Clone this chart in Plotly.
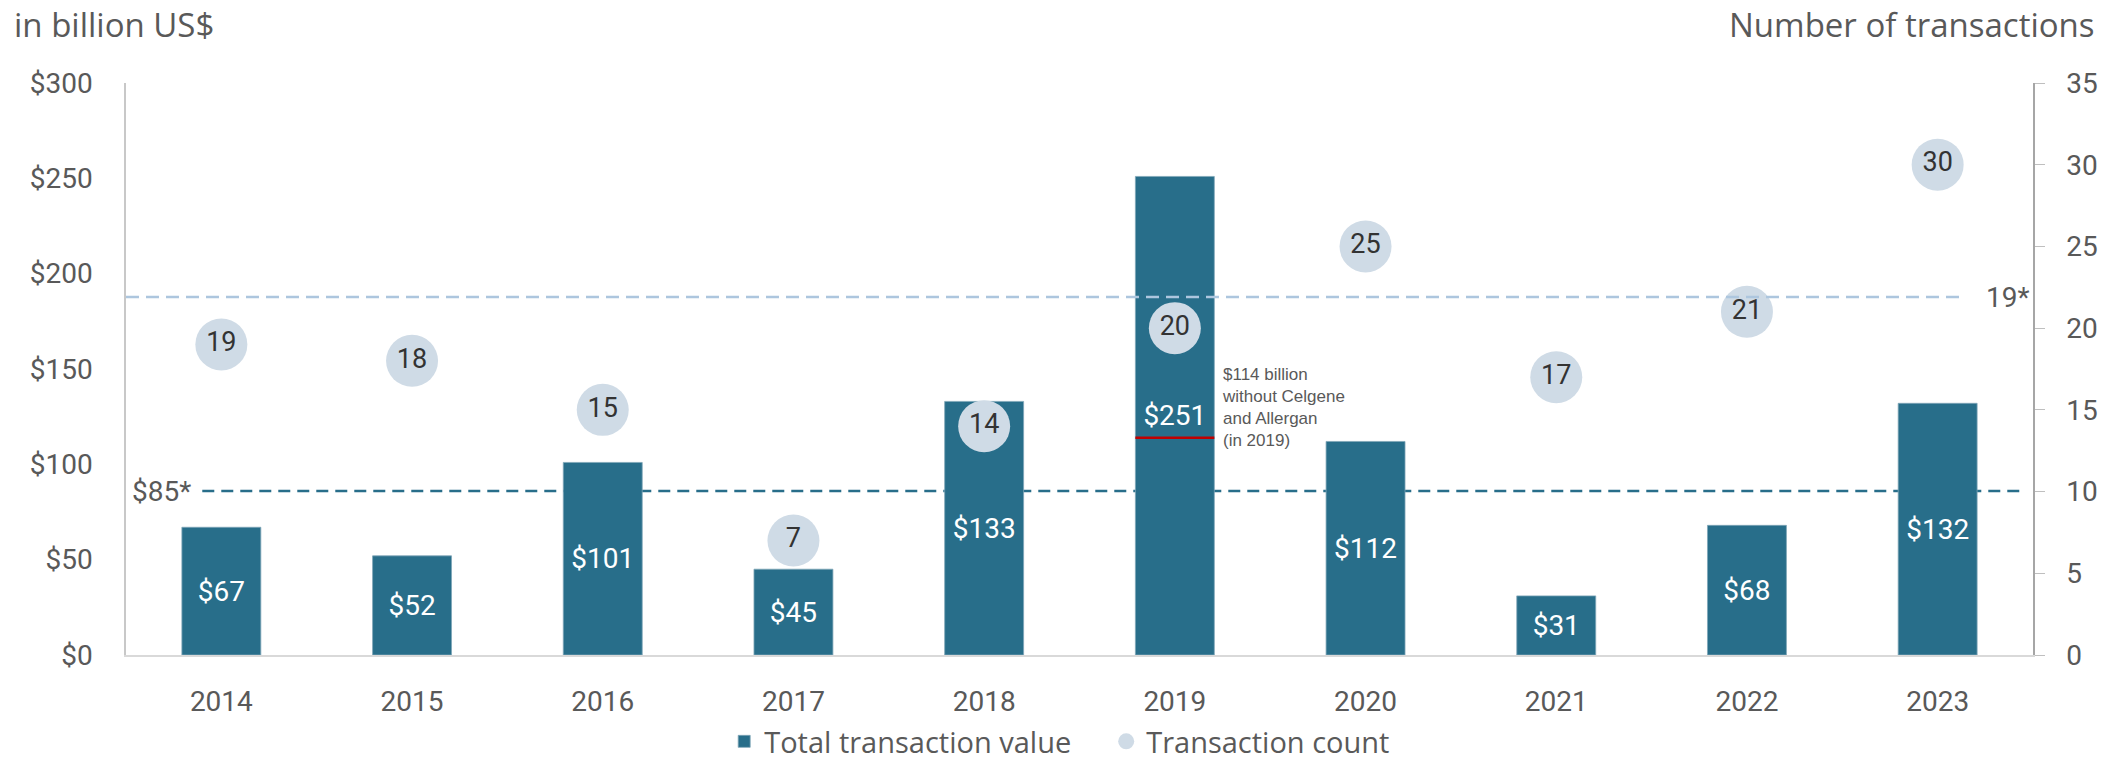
import plotly.graph_objects as go

years = ["2014", "2015", "2016", "2017", "2018", "2019", "2020", "2021", "2022", "2023"]
total_value = [67, 52, 101, 45, 133, 251, 112, 31, 68, 132]
transaction_count = [19, 18, 15, 7, 14, 20, 25, 17, 21, 30]
value_labels = ["$" + str(v) for v in total_value]
avg_value_level = 86          # dashed "$85*" reference line (billion US$)
avg_value_label = "$85*"
avg_count_level = 21.9        # dashed "19*" reference line (right axis)
avg_count_label = "19*"
value_ticks = [0, 50, 100, 150, 200, 250, 300]
value_ticktext = ["$0", "$50", "$100", "$150", "$200", "$250", "$300"]
count_ticks = [0, 5, 10, 15, 20, 25, 30, 35]
excl_year_index = 5
excl_value = 114
excl_note = "$114 billion<br>without Celgene<br>and Allergan<br>(in 2019)"

BAR = "#286e8a"
BUBBLE = "#cfdbe6"
GREY = "#595959"
FONT = "Roboto, Liberation Sans, sans-serif"
TITLE_FONT = "Open Sans, sans-serif"
BAR_W = 0.414

fig = go.Figure()
fig.add_trace(go.Bar(
    x=years, y=total_value, name="Total transaction value",
    marker=dict(color=BAR, line=dict(color="#7fa6b8", width=0.8)),
    width=BAR_W, text=value_labels, textposition="inside",
    insidetextanchor="middle", textangle=0, constraintext="none",
    textfont=dict(color="white", size=28, family=FONT),
))
fig.add_trace(go.Scatter(
    x=years, y=transaction_count, name="Transaction count", yaxis="y2",
    mode="markers+text", marker=dict(size=52, color=BUBBLE),
    text=[str(c) for c in transaction_count], textposition="middle center",
    textfont=dict(color="#333333", size=27, family=FONT), cliponaxis=False,
))

shapes = [
    dict(type="line", xref="paper", yref="y", x0=0.04, x1=0.995,
         y0=avg_value_level, y1=avg_value_level, layer="below",
         line=dict(color=BAR, width=2.5, dash="12px,7px")),
    dict(type="line", xref="paper", yref="y2", x0=0.0, x1=0.964,
         y0=avg_count_level, y1=avg_count_level, layer="above",
         line=dict(color="#adc6de", width=2.5, dash="13px,7px")),
    dict(type="line", xref="x", yref="y", x0=excl_year_index - BAR_W / 2,
         x1=excl_year_index + BAR_W / 2, y0=excl_value, y1=excl_value,
         layer="above", line=dict(color="#c00000", width=2.5)),
]

annotations = [
    dict(text=avg_value_label, xref="paper", yref="y", x=0.035, y=avg_value_level,
         xanchor="right", yanchor="middle", showarrow=False,
         font=dict(size=28, color=GREY, family=FONT)),
    dict(text=avg_count_label, xref="paper", yref="y2", x=0.9995, y=avg_count_level,
         xanchor="right", yanchor="middle", showarrow=False,
         font=dict(size=28, color=GREY, family=FONT)),
    dict(text=excl_note, xref="x", yref="y", x=excl_year_index + BAR_W / 2, y=excl_value,
         xanchor="left", yanchor="middle", xshift=6, yshift=30, align="left",
         showarrow=False, font=dict(size=17, color=GREY, family="Liberation Sans, sans-serif")),
    dict(text="in billion US$", xref="paper", yref="paper", x=-0.0598, y=1.1451,
         xanchor="left", yanchor="top", showarrow=False,
         font=dict(size=33, color=GREY, family=TITLE_FONT)),
    dict(text="Number of transactions", xref="paper", yref="paper", x=1.0336, y=1.1451,
         xanchor="right", yanchor="top", showarrow=False,
         font=dict(size=33, color=GREY, family=TITLE_FONT)),
]

fig.update_layout(
    width=2121, height=767,
    margin=dict(l=126, r=88, t=83, b=112, autoexpand=False),
    paper_bgcolor="white", plot_bgcolor="white",
    font=dict(family=FONT, color=GREY),
    showlegend=True,
    legend=dict(orientation="h", x=0.514, xanchor="center", y=-112 / 572, yanchor="bottom",
                font=dict(size=29, color=GREY, family=TITLE_FONT),
                itemsizing="trace", traceorder="normal", itemwidth=30,
                entrywidth=337, entrywidthmode="pixels"),
    xaxis=dict(type="category", range=[-0.5, 9.5], showline=True, linecolor="#d9d9d9",
               linewidth=2, ticks="", showgrid=False, zeroline=False, automargin=False,
               tickfont=dict(size=28, color=GREY, family=FONT), ticklabelstandoff=20),
    yaxis=dict(range=[0, 300], tickvals=value_ticks, ticktext=value_ticktext,
               showline=True, linecolor="#c8c8c8", linewidth=1.5, ticks="",
               showgrid=False, zeroline=False, automargin=False,
               tickfont=dict(size=28, color=GREY, family=FONT), ticklabelstandoff=26),
    yaxis2=dict(range=[0, 35], tickvals=count_ticks, overlaying="y", side="right",
                showline=True, linecolor="#a6a6a6", linewidth=1.5, ticks="outside",
                ticklen=10, tickcolor="#bfbfbf", showgrid=False, zeroline=False,
                automargin=False,
                tickfont=dict(size=28, color=GREY, family=FONT), ticklabelstandoff=16),
    shapes=shapes, annotations=annotations,
)

# remove the page's default 8px body margin so the figure fills the window exactly
fig.write_html("out.html", config={"displayModeBar": False},
               post_script="document.body.style.margin='0';document.body.style.overflow='hidden';")
